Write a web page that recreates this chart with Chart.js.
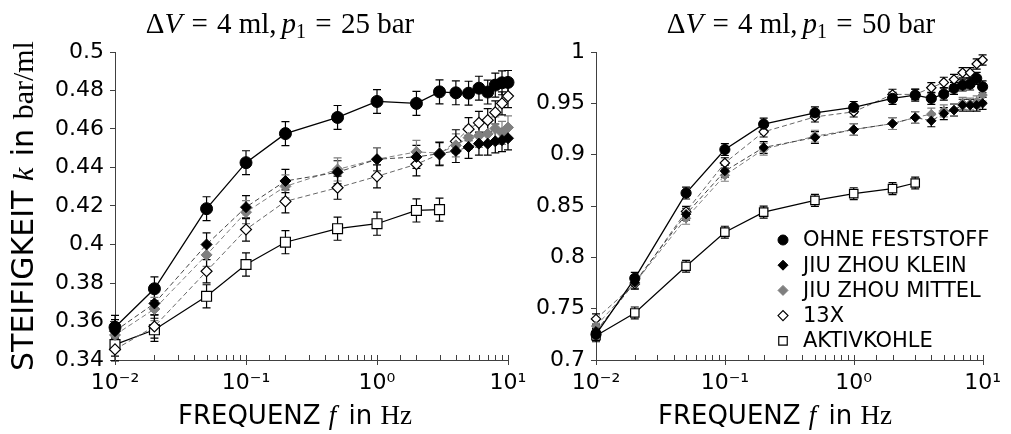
<!DOCTYPE html>
<html><head><meta charset="utf-8">
<script src="https://cdn.jsdelivr.net/npm/chart.js@4.4.1/dist/chart.umd.min.js"></script>
<style>
html,body{margin:0;padding:0;background:#fff;}
#wrap{position:relative;width:1011px;height:434px;overflow:hidden;background:#fff;}
canvas{position:absolute;top:0;}
</style></head><body>
<div id="wrap">
<canvas id="cL" width="540" height="434" style="left:0;width:540px;height:434px"></canvas>
<canvas id="cR" width="531" height="434" style="left:480px;width:531px;height:434px"></canvas>
</div>
<script>
// ---------- data ----------
const FREQ = [0.01,0.02,0.05,0.1,0.2,0.5,1,2,3,4,5,6,7,8,9,10];
const FREQ_AK = [0.01,0.02,0.05,0.1,0.2,0.5,1,2,3];
const LABELS = ['OHNE FESTSTOFF','JIU ZHOU KLEIN','JIU ZHOU MITTEL','13X','AKTIVKOHLE'];

// p1 = 25 bar
const OHNE_L  = [0.357,0.377,0.4186,0.4425,0.4576,0.466,0.4743,0.4733,0.4793,0.4788,0.4786,0.4812,0.4792,0.4828,0.484,0.4842];
const KLEIN_L = [0.355,0.3694,0.400,0.4194,0.433,0.4375,0.4443,0.4455,0.4472,0.4486,0.4507,0.4524,0.4524,0.4536,0.4542,0.4552];
const MITTEL_L= [0.353,0.3665,0.3946,0.4168,0.4302,0.439,0.4443,0.4481,0.4475,0.4515,0.4555,0.4565,0.4575,0.4603,0.458,0.4608];
const X13_L   = [0.3455,0.3574,0.3861,0.4078,0.4224,0.4295,0.4354,0.4417,0.4469,0.4536,0.4599,0.4632,0.4646,0.4686,0.4733,0.4771];
const AKTIV_L = [0.348,0.3557,0.3731,0.3896,0.4012,0.4082,0.4108,0.4177,0.4181];
const ERR_L   = [0.0062,0.006,0.006,0.006,0.006];

// p1 = 50 bar
const OHNE_R  = [0.725,0.7796,0.8626,0.905,0.9297,0.9408,0.946,0.9548,0.958,0.9548,0.959,0.9645,0.9678,0.9688,0.9743,0.9661];
const KLEIN_R = [0.728,0.7757,0.842,0.884,0.907,0.9167,0.9245,0.9303,0.9362,0.933,0.940,0.9434,0.9482,0.9482,0.9482,0.950];
const MITTEL_R= [0.733,0.775,0.838,0.8799,0.9053,0.918,0.9245,0.9303,0.9362,0.9395,0.9427,0.9434,0.950,0.9494,0.9515,0.958];
const X13_R   = [0.74,0.7741,0.8447,0.892,0.9222,0.9368,0.9417,0.9587,0.9587,0.9652,0.9704,0.9733,0.9798,0.9798,0.9883,0.9922];
const AKTIV_R = [0.7236,0.7458,0.7913,0.8245,0.844,0.8555,0.862,0.8669,0.8724];
const ERR_R   = [0.0058,0.0058,0.0058,0.005,0.0058];

const Y_L = {min:0.34, max:0.5, step:0.02};
const Y_R = {min:0.7, max:1.0, step:0.05};

// ---------- styles ----------
const SANS = '"DejaVu Sans", Verdana, sans-serif';
const SERIF = '"Liberation Serif", "Times New Roman", serif';
const AXIS = '#404040';
const STYLES = [
  {pointStyle:'circle', pointRadius:6, pointBackgroundColor:'#000', pointBorderColor:'#000', pointBorderWidth:1, borderColor:'#000', borderWidth:1.3, borderDash:[], errColor:'#000'},
  {pointStyle:'rectRot', pointRadius:5.5, pointBackgroundColor:'#000', pointBorderColor:'#000', pointBorderWidth:1, borderColor:'#444', borderWidth:1, borderDash:[5,3], errColor:'#000'},
  {pointStyle:'rectRot', pointRadius:5.5, pointBackgroundColor:'#7f7f7f', pointBorderColor:'#7f7f7f', pointBorderWidth:1, borderColor:'#7f7f7f', borderWidth:1, borderDash:[5,3], errColor:'#7f7f7f'},
  {pointStyle:'rectRot', pointRadius:5.5, pointBackgroundColor:'#fff', pointBorderColor:'#000', pointBorderWidth:1.2, borderColor:'#666', borderWidth:1, borderDash:[5,3], errColor:'#000'},
  {pointStyle:'rect', pointRadius:7, pointBackgroundColor:'#fff', pointBorderColor:'#000', pointBorderWidth:1.2, borderColor:'#000', borderWidth:1.2, borderDash:[], errColor:'#000'}
];

function makeSets(series, errs, scale){
  return series.map((s,i)=>Object.assign({
    label: LABELS[i],
    data: s.ys.map((v,k)=>({x:s.xs[k], y:v})),
    err: errs[i], showLine:true, fill:false, tension:0, clip:false
  }, STYLES[i], {pointRadius: STYLES[i].pointRadius*scale}));
}

// ---------- helpers ----------
const SUP = {'-':'\u207B','0':'\u2070','1':'\u00B9','2':'\u00B2','3':'\u00B3'};
function isPow10(v){ const e=Math.log10(v); return Math.abs(e-Math.round(e))<1e-9; }
function powLabel(v){ const e=Math.round(Math.log10(v)); return '10'+String(e).split('').map(c=>SUP[c]).join(''); }

function drawRich(ctx, segs, x, y){
  let total=0;
  segs.forEach(s=>{ ctx.font=s.f; s.w=ctx.measureText(s.t).width + (s.gap||0); total+=s.w; });
  let cx = x - total/2;
  ctx.textBaseline='alphabetic'; ctx.textAlign='left'; ctx.fillStyle='#000';
  segs.forEach(s=>{ ctx.font=s.f; ctx.fillText(s.t, cx, y+(s.dy||0)); cx+=s.w; });
}

const errorBars = {
  id:'errorBars',
  beforeDatasetsDraw(chart){
    const ctx=chart.ctx, xs=chart.scales.x, ys=chart.scales.y;
    chart.data.datasets.forEach(ds=>{
      if(!ds.err) return;
      ctx.save(); ctx.strokeStyle=ds.errColor; ctx.lineWidth=1.2; ctx.setLineDash([]);
      ds.data.forEach(p=>{
        const px=xs.getPixelForValue(p.x);
        const y1=ys.getPixelForValue(p.y-ds.err), y2=ys.getPixelForValue(p.y+ds.err);
        ctx.beginPath();
        ctx.moveTo(px,y1); ctx.lineTo(px,y2);
        ctx.moveTo(px-4,y1); ctx.lineTo(px+4,y1);
        ctx.moveTo(px-4,y2); ctx.lineTo(px+4,y2);
        ctx.stroke();
      });
      ctx.restore();
    });
  }
};

const logTicks = {
  id:'logTicks',
  afterDraw(chart){
    const ctx=chart.ctx, xs=chart.scales.x, yb=chart.chartArea.bottom;
    ctx.save(); ctx.strokeStyle=AXIS; ctx.lineWidth=1;
    xs.ticks.forEach(t=>{
      const px=Math.round(xs.getPixelForValue(t.value))+0.5;
      const major=isPow10(t.value);
      ctx.beginPath(); ctx.moveTo(px, yb-5); ctx.lineTo(px, yb+(major?5:0)); ctx.stroke();
    });
    ctx.restore();
  }
};

function textPlugin(cfg){
  return {
    id:'texts',
    afterDraw(chart){
      const ctx=chart.ctx;
      ctx.save();
      drawRich(ctx, cfg.title, cfg.titleX, 33);
      drawRich(ctx, [
        {t:'FREQUENZ ', f:`26px ${SANS}`},
        {t:'f', f:`italic 27px ${SERIF}`, gap:4},
        {t:' in ', f:`26px ${SANS}`},
        {t:'Hz', f:`27px ${SERIF}`}
      ], cfg.xTitleX, 424);
      if(cfg.yTitle){
        ctx.save(); ctx.translate(33, 206); ctx.rotate(-Math.PI/2);
        drawRich(ctx, [
          {t:'STEIFIGKEIT ', f:`30px ${SANS}`},
          {t:'k', f:`italic 30px ${SERIF}`, gap:2},
          {t:' in ', f:`30px ${SANS}`},
          {t:'bar/ml', f:`30px ${SERIF}`}
        ], 0, 0);
        ctx.restore();
      }
      if(cfg.legend){
        const lx=cfg.legend.x, ly=cfg.legend.y, dy=25.2;
        chart.data.datasets.forEach((ds,i)=>{
          const yy=ly+i*dy;
          ctx.save();
          ctx.fillStyle=ds.pointBackgroundColor; ctx.strokeStyle=ds.pointBorderColor; ctx.lineWidth=ds.pointBorderWidth; ctx.setLineDash([]);
          Chart.helpers.drawPoint(ctx, {pointStyle:ds.pointStyle, radius: ds.pointStyle==='rect'?6:5, rotation:0, borderWidth:ds.pointBorderWidth}, lx, yy);
          ctx.restore();
          ctx.font=`21px ${SANS}`; ctx.fillStyle='#000'; ctx.textAlign='left'; ctx.textBaseline='middle';
          ctx.fillText(ds.label, lx+20, yy+1);
        });
      }
      ctx.restore();
    }
  };
}

function titleSegs(p){
  const F=`29px ${SERIF}`, I=`italic 29px ${SERIF}`;
  return [
    {t:'\u0394', f:F}, {t:'V', f:I, gap:2}, {t:' = ', f:F, gap:2}, {t:'4 ml,', f:F, gap:5},
    {t:'p', f:I}, {t:'1', f:`20px ${SERIF}`, dy:5, gap:2}, {t:' = ', f:F, gap:2}, {t:p+' bar', f:F}
  ];
}

function makeChart(id, sets, yr, yWidth, rightPad, cfg){
  return new Chart(document.getElementById(id), {
    type:'line',
    data:{datasets:sets},
    options:{
      responsive:false, animation:false, devicePixelRatio:1,
      layout:{padding:{left:0, top:52, right:rightPad, bottom:0}},
      plugins:{legend:{display:false}, tooltip:{enabled:false}},
      scales:{
        x:{
          type:'logarithmic', min:0.01, max:10,
          grid:{display:false, drawTicks:false},
          border:{display:true, color:AXIS, width:1},
          ticks:{autoSkip:false, maxRotation:0, minRotation:0, padding:10, color:'#000',
            font:{family:'DejaVu Sans', size:22},
            callback:(v)=> isPow10(v) ? powLabel(v) : ''},
          afterFit:(s)=>{ s.height = 74; }
        },
        y:{
          min:yr.min, max:yr.max,
          grid:{display:true, drawOnChartArea:false, drawTicks:true, tickLength:5, color:AXIS},
          border:{display:true, color:AXIS, width:1},
          ticks:{stepSize:yr.step, padding:6, color:'#000', font:{family:'DejaVu Sans', size:22},
            callback:(v)=> String(+v.toFixed(2))},
          afterFit:(s)=>{ s.width = yWidth; }
        }
      }
    },
    plugins:[errorBars, logTicks, textPlugin(cfg)]
  });
}

const setsL = makeSets([
  {xs:FREQ, ys:OHNE_L},{xs:FREQ, ys:KLEIN_L},{xs:FREQ, ys:MITTEL_L},{xs:FREQ, ys:X13_L},{xs:FREQ_AK, ys:AKTIV_L}
], ERR_L, 1);
const setsR = makeSets([
  {xs:FREQ, ys:OHNE_R},{xs:FREQ, ys:KLEIN_R},{xs:FREQ, ys:MITTEL_R},{xs:FREQ, ys:X13_R},{xs:FREQ_AK, ys:AKTIV_R}
], ERR_R, 0.85);

makeChart('cL', setsL, Y_L, 115, 540-508, {title:titleSegs('25'), titleX:280, xTitleX:295, yTitle:true});
makeChart('cR', setsR, Y_R, 116, 531-506, {title:titleSegs('50'), titleX:801-480, xTitleX:775-480, yTitle:false, legend:{x:783-480, y:240}});
</script>
</body></html>
